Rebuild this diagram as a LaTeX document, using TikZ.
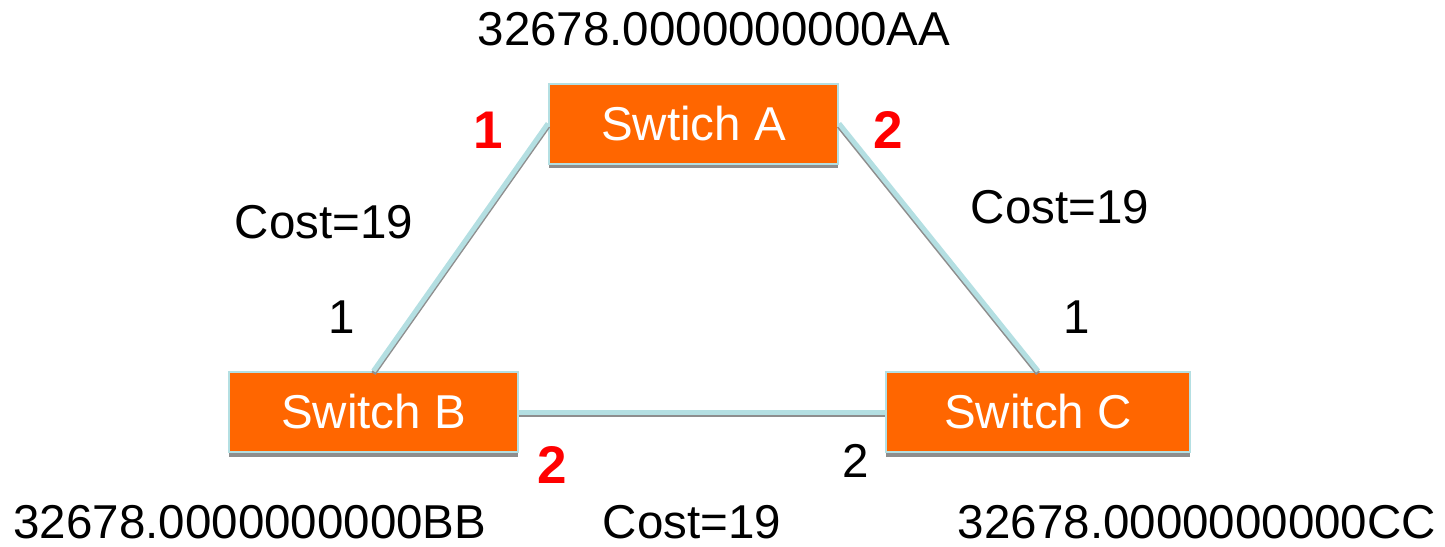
\documentclass[tikz,border=0pt]{standalone}
\usepackage{fontspec}
\setmainfont{Liberation Sans}
\definecolor{swor}{HTML}{FF6600}
\definecolor{linkblue}{HTML}{B4DFE2}
\definecolor{shgray}{HTML}{8E8E8E}
\begin{document}
\begin{tikzpicture}[x=1pt,y=-1pt,
  lbl/.style={font=\fontsize{47.5}{52}\selectfont, inner sep=0pt, anchor=base},
  port/.style={lbl, text=red, font=\fontsize{53}{58}\selectfont\bfseries},
  sw/.style={draw=linkblue, line width=2pt, fill=swor, text=white,
    font=\fontsize{47.5}{52}\selectfont, minimum height=80pt, inner sep=0pt},
  link/.style={draw=linkblue, line width=5pt},
  linkshadow/.style={draw=shgray, line width=5pt},
  boxshadow/.style={fill=shgray}]
\useasboundingbox (0,0) rectangle (1445,546);
% box shadows
\fill[boxshadow] (549,160) rectangle (838,168);
\fill[boxshadow] (229,448) rectangle (518,457);
\fill[boxshadow] (886,448) rectangle (1190,457);
% switches
\node[sw, minimum width=289pt] (A) at (693.5,123.5) {Swtich A};
\node[sw, minimum width=289pt] (B) at (373.5,412) {Switch B};
\node[sw, minimum width=304pt] (C) at (1038,412) {Switch C};
% links
\draw[linkshadow] ([shift={(0,2.5)}]A.west) -- ([shift={(0,2.5)}]B.north);
\draw[link] (A.west) -- (B.north);
\draw[linkshadow] ([shift={(0,2.5)}]A.east) -- ([shift={(0,2.5)}]C.north);
\draw[link] (A.east) -- (C.north);
\draw[linkshadow] ([shift={(0,2.5)}]B.east) -- ([shift={(0,2.5)}]C.west);
\draw[link] (B.east) -- (C.west);
% labels
\node[lbl] (idA) at (714,45) {32678.0000000000AA};
\node[lbl] (idB) at (250,538) {32678.0000000000BB};
\node[lbl] (idC) at (1197,538) {32678.0000000000CC};
\node[lbl] (cAB) at (324,238) {Cost=19};
\node[lbl] (cAC) at (1060,223) {Cost=19};
\node[lbl] (cBC) at (692,538) {Cost=19};
\node[lbl] (pB1) at (341.5,333) {1};
\node[lbl] (pC1) at (1076.5,333) {1};
\node[lbl] (pC2) at (855.5,477) {2};
\node[port] (pA1) at (488,148) {1};
\node[port] (pA2) at (888,148) {2};
\node[port] (pB2) at (552,483) {2};
\end{tikzpicture}
\end{document}
